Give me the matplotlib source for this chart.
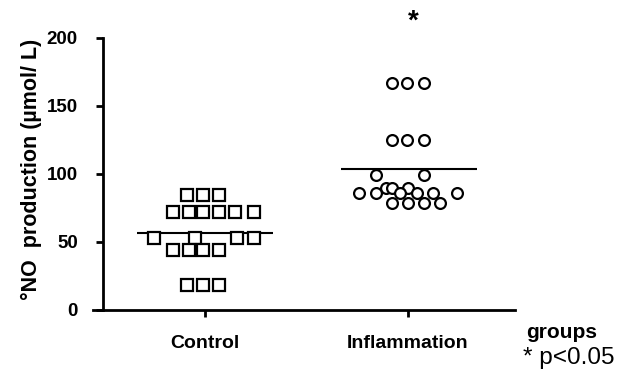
import matplotlib
matplotlib.use("Agg")
import matplotlib.pyplot as plt
import numpy as np

plt.rcParams['font.family'] = ['Liberation Sans', 'DejaVu Sans']

categories = ["Control", "Inflammation"]
y_ticks = [0, 50, 100, 150, 200]

# Control group values and horizontal jitter offsets (category units)
control_values = [84.6, 84.6, 84.6,
                  72, 72, 72, 72, 72, 72,
                  53, 53, 53, 53,
                  44, 44, 44, 44,
                  18.4, 18.4, 18.4]
control_offsets = [-0.09, -0.01, 0.07,
                   -0.16, -0.08, -0.01, 0.07, 0.15, 0.24,
                   -0.25, -0.05, 0.16, 0.24,
                   -0.16, -0.08, -0.01, 0.07,
                   -0.09, -0.01, 0.07]
control_mean = 56.6

infl_values = [167, 167, 167,
               125, 125, 125,
               99, 99,
               90, 90, 90,
               86, 86, 86, 86, 86, 86,
               79, 79, 79, 79]
infl_offsets = [-0.08, -0.005, 0.08,
                -0.08, -0.005, 0.08,
                -0.16, 0.08,
                -0.11, -0.08, 0.0,
                -0.24, -0.16, -0.04, 0.045, 0.125, 0.24,
                -0.08, 0.0, 0.08, 0.16]
infl_mean = 103.7

sig_marker_value = 212

fig = plt.figure(figsize=(6.22, 3.80), dpi=100)
ax = fig.add_axes([93/622, 70/380, 422/622, 272/380])

x_pos = [1, 2]
cx = x_pos[0] + np.array(control_offsets)
ix = x_pos[1] + np.array(infl_offsets)
ax.plot(cx, control_values, linestyle='none', marker='s', markersize=8.2,
        markerfacecolor='white', markeredgecolor='black', markeredgewidth=1.6, clip_on=False, zorder=3)
ax.plot(ix, infl_values, linestyle='none', marker='o', markersize=7.8,
        markerfacecolor='white', markeredgecolor='black', markeredgewidth=1.6, clip_on=False, zorder=3)

ax.hlines(control_mean, x_pos[0] - 0.335, x_pos[0] + 0.335, color='black', linewidth=1.5, zorder=2)
ax.hlines(infl_mean, x_pos[1] - 0.33, x_pos[1] + 0.34, color='black', linewidth=1.5, zorder=2)

ax.text(x_pos[1] + 0.025, sig_marker_value, "*", ha='center', va='center', fontsize=20,
        fontweight='bold', clip_on=False)

left_px = 93
xmin = 1 - (205 - left_px) / 203
xmax = 2 + (515 - 408) / 203
ax.set_xlim(xmin, xmax)
ax.set_ylim(0, 200)

ax.spines['top'].set_visible(False)
ax.spines['right'].set_visible(False)
ax.spines['left'].set_position(('data', 1 - (205 - 103) / 203))
ax.spines['left'].set_bounds(0, 200)
ax.spines['left'].set_linewidth(2)
ax.spines['bottom'].set_linewidth(2)

ax.set_yticks(y_ticks)
ax.set_yticklabels([str(t) for t in y_ticks], fontweight='bold', fontsize=13.5)
ax.set_xticks(x_pos)
ax.set_xticklabels(categories, fontweight='bold', fontsize=14)
ax.tick_params(axis='both', direction='out', length=5, width=2)
ax.tick_params(axis='x', pad=13)
ax.tick_params(axis='y', pad=13)

ax.set_ylabel("°NO  production (µmol/ L)", fontweight='bold', fontsize=15.5)
ax.yaxis.set_label_coords((42 - 93) / 422, 0.518)

fig.text(562/622, 1 - 332/380, "groups", ha='center', va='center', fontweight='bold', fontsize=15)
fig.text(569/622, 1 - 358/380, "* p<0.05", ha='center', va='center', fontsize=17.5)

fig.savefig("out.png", dpi=100)
